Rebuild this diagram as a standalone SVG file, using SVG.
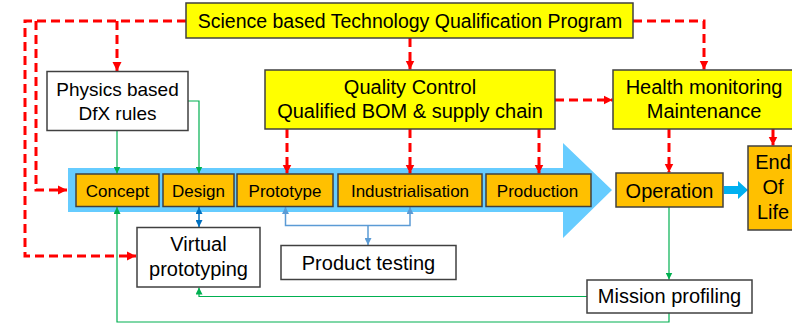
<svg xmlns="http://www.w3.org/2000/svg" width="792" height="324" viewBox="0 0 792 324">
  <style>
    text { font-family: "Liberation Sans", Arial, sans-serif; fill: #000; text-anchor: middle; }
    .lg { font-size: 20px; }
    .sm { font-size: 17px; }
    .yellow { fill: #FFFF00; stroke: #404040; stroke-width: 1.5; }
    .orange { fill: #FFC000; stroke: #404040; stroke-width: 1.5; }
    .white { fill: #FFFFFF; stroke: #404040; stroke-width: 1.5; }
    .red { fill: none; stroke: #FF0000; stroke-width: 3; stroke-dasharray: 9 5; marker-end: url(#arRed); }
    .green { fill: none; stroke: #00B050; stroke-width: 1.2; marker-end: url(#arGreen); }
    .blue { fill: none; stroke: #5B9BD5; stroke-width: 1.5; }
    .dblue { fill: none; stroke: #0070C0; stroke-width: 1.5; marker-start: url(#arDBlue); marker-end: url(#arDBlue); }
  </style>
  <defs>
    <marker id="arRed" markerUnits="userSpaceOnUse" markerWidth="9" markerHeight="10" viewBox="0 0 9 10" refX="9" refY="5" orient="auto">
      <path d="M0,0.5 L9,5 L0,9.5 Z" fill="#FF0000"/>
    </marker>
    <marker id="arGreen" markerUnits="userSpaceOnUse" markerWidth="7" markerHeight="7" viewBox="0 0 7 7" refX="7" refY="3.5" orient="auto">
      <path d="M0,0 L7,3.5 L0,7 Z" fill="#00B050"/>
    </marker>
    <marker id="arBlue" markerUnits="userSpaceOnUse" markerWidth="7" markerHeight="7" viewBox="0 0 7 7" refX="7" refY="3.5" orient="auto-start-reverse">
      <path d="M0,0 L7,3.5 L0,7 Z" fill="#5B9BD5"/>
    </marker>
    <marker id="arDBlue" markerUnits="userSpaceOnUse" markerWidth="7" markerHeight="7" viewBox="0 0 7 7" refX="7" refY="3.5" orient="auto-start-reverse">
      <path d="M0,0 L7,3.5 L0,7 Z" fill="#0070C0"/>
    </marker>
  </defs>

  <!-- lifecycle arrow -->
  <polygon id="flow-arrow" points="68,168 563,168 563,143 612,190 563,238 563,212 68,212" fill="#66CCFF"/>
  <polygon id="flow-arrow-small" points="724,186 738,186 738,181 748,190 738,199 738,194 724,194" fill="#00B0F0"/>

  <g id="connectors">
    <!-- qualification program links -->
    <path class="red" d="M186,21 H25 V256 H136"/>
    <path class="red" d="M36,21 V190 H67"/>
    <path class="red" d="M117,21 V71"/>
    <path class="red" d="M410,38 V69.5"/>
    <path class="red" d="M633,21 H704 V69.5"/>
    <path class="red" d="M555,100 H612.5"/>
    <path class="red" d="M287,129 V173.5"/>
    <path class="red" d="M410,129 V173.5"/>
    <path class="red" d="M539,129 V173.5"/>
    <path class="red" d="M669,129 V172.5"/>
    <path class="red" d="M773,129 V145.5"/>
    <!-- feedback links -->
    <path class="green" d="M117,131 V173.5"/>
    <path class="green" d="M188,101 H199 V173.5"/>
    <path class="green" d="M669,207 V279.5"/>
    <path class="green" d="M587,296.5 H199 V287.5"/>
    <path class="green" d="M669,313 V322 H117 V207"/>
    <!-- testing links -->
    <path class="blue" d="M285.5,207 V225.5 H410 V207" marker-start="url(#arBlue)" marker-end="url(#arBlue)"/>
    <path class="blue" d="M368,225.5 V245" marker-end="url(#arBlue)"/>
    <path class="dblue" d="M199,207 V227"/>
  </g>

  <g id="program">
    <rect class="yellow" x="186" y="3" width="447" height="35"/>
    <text class="lg" x="410" y="27.5" style="font-size:19.5px">Science based Technology Qualification Program</text>
  </g>
  <g id="dfx">
    <rect class="white" x="47" y="71.5" width="141" height="59"/>
    <text class="lg" x="117.5" y="96" style="font-size:19px">Physics based</text>
    <text class="lg" x="117.5" y="120" style="font-size:19px">DfX rules</text>
  </g>
  <g id="quality">
    <rect class="yellow" x="265" y="70" width="290" height="59"/>
    <text class="lg" x="410" y="93.5">Quality Control</text>
    <text class="lg" x="410" y="118">Qualified BOM &amp; supply chain</text>
  </g>
  <g id="health">
    <rect class="yellow" x="613" y="70" width="190" height="59"/>
    <text class="lg" x="704" y="94">Health monitoring</text>
    <text class="lg" x="704" y="118">Maintenance</text>
  </g>

  <g id="concept">
    <rect class="orange" x="76" y="174" width="83" height="32.5"/>
    <text class="sm" x="117.5" y="197">Concept</text>
  </g>
  <g id="design">
    <rect class="orange" x="163" y="174" width="71" height="32.5"/>
    <text class="sm" x="198.5" y="197">Design</text>
  </g>
  <g id="prototype">
    <rect class="orange" x="237" y="174" width="96" height="32.5"/>
    <text class="sm" x="285" y="197">Prototype</text>
  </g>
  <g id="industrialisation">
    <rect class="orange" x="338" y="174" width="144" height="32.5"/>
    <text class="sm" x="410" y="197">Industrialisation</text>
  </g>
  <g id="production">
    <rect class="orange" x="486" y="174" width="105" height="32.5"/>
    <text class="sm" x="537.5" y="197">Production</text>
  </g>
  <g id="operation">
    <rect class="orange" x="616" y="173" width="107" height="34"/>
    <text class="lg" x="669.5" y="197.5">Operation</text>
  </g>
  <g id="end-of-life">
    <rect class="orange" x="748" y="146" width="52" height="84"/>
    <text class="lg" x="773" y="169">End</text>
    <text class="lg" x="773" y="194">Of</text>
    <text class="lg" x="773" y="219">Life</text>
  </g>

  <g id="virtual">
    <rect class="white" x="137" y="227.5" width="123" height="59.5"/>
    <text class="lg" x="198.5" y="251">Virtual</text>
    <text class="lg" x="198.5" y="276">prototyping</text>
  </g>
  <g id="testing">
    <rect class="white" x="281" y="245.5" width="175" height="34"/>
    <text class="lg" x="368.5" y="269.5">Product testing</text>
  </g>
  <g id="mission">
    <rect class="white" x="587" y="280" width="165" height="33"/>
    <text class="lg" x="669.5" y="302.5">Mission profiling</text>
  </g>
</svg>
